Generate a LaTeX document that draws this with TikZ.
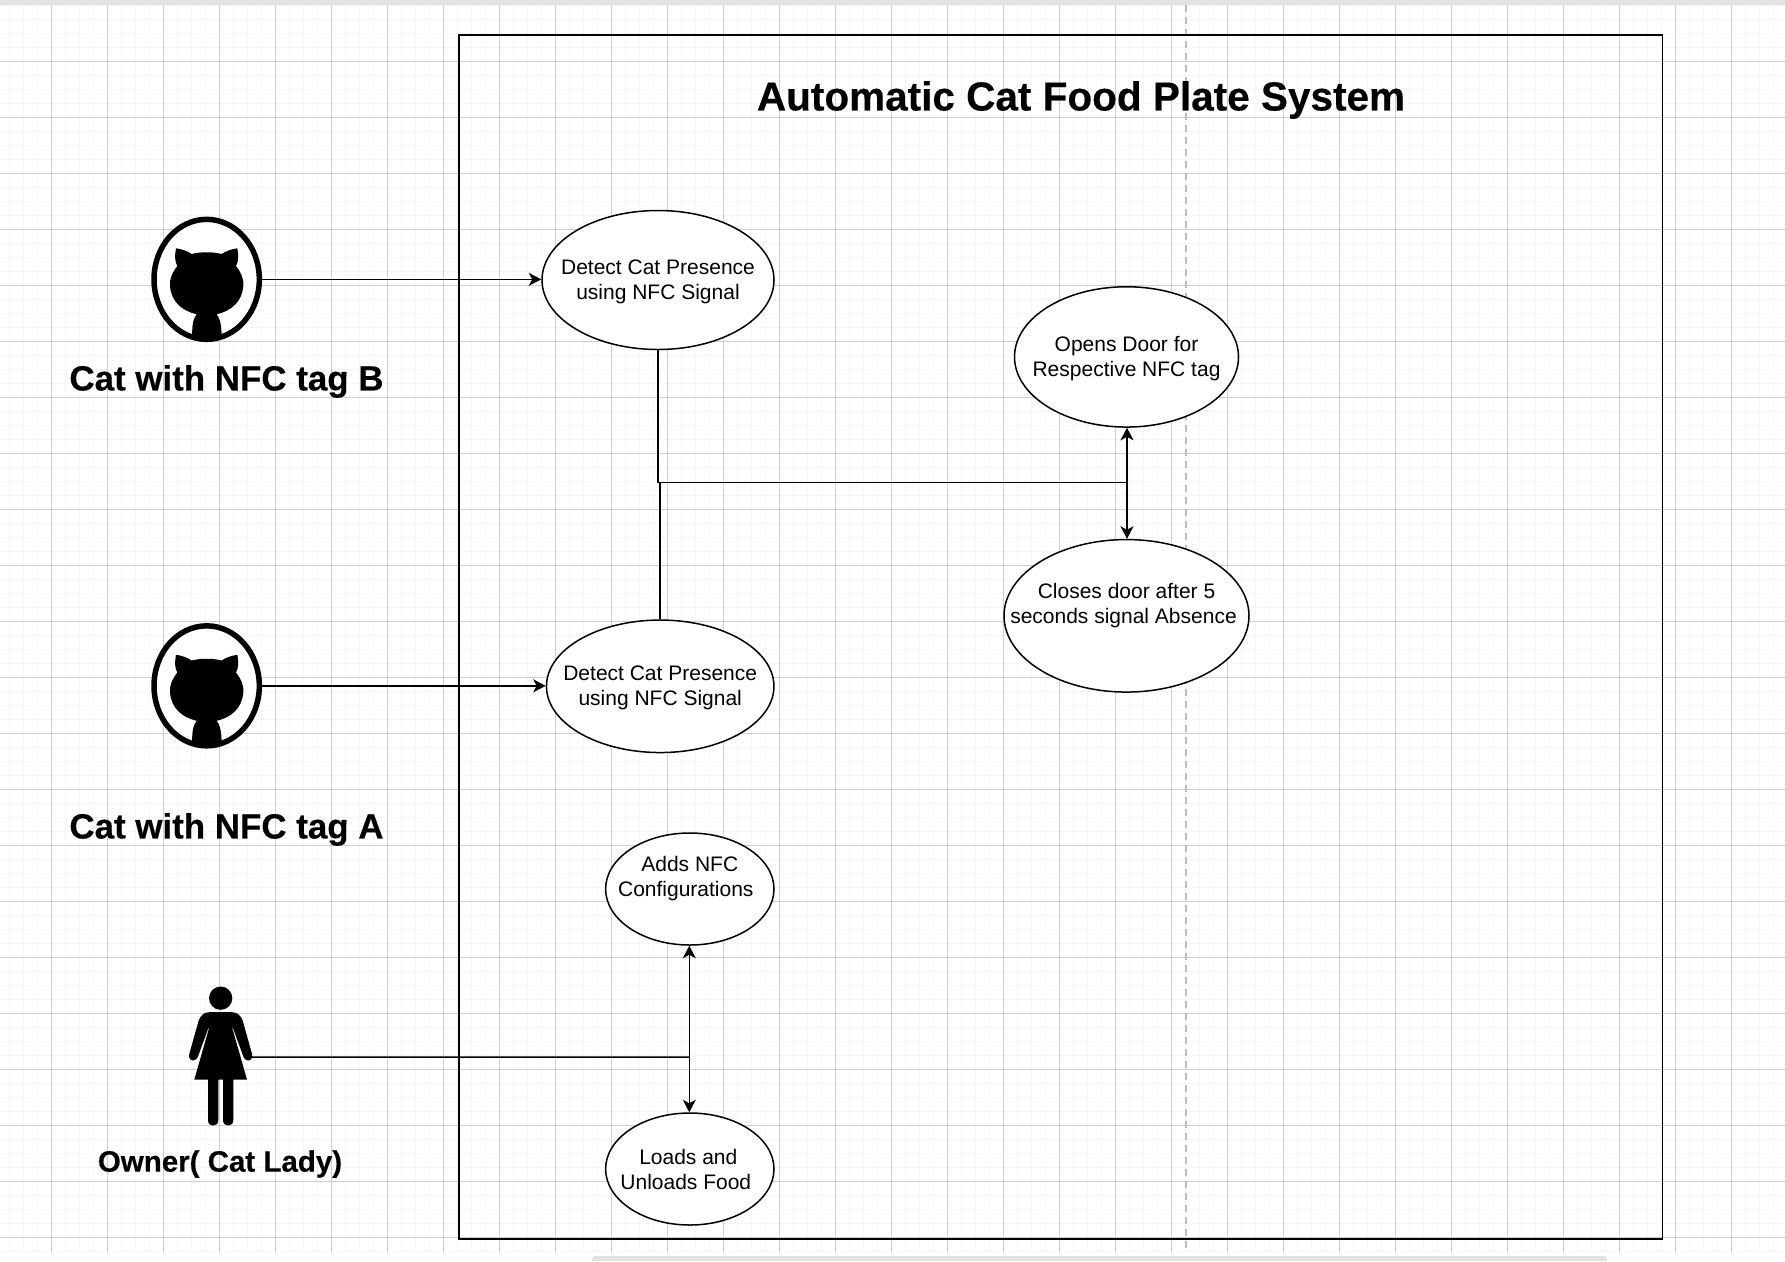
\documentclass[tikz,border=0pt]{standalone}
\usepackage{fontspec}
\setmainfont{Liberation Sans}[BoldFeatures={FakeBold=0.35}]
\usetikzlibrary{arrows.meta,shapes.geometric}
\definecolor{gridminor}{HTML}{F6F6F6}
\definecolor{gridmajor}{HTML}{CFCFCF}
\definecolor{barcol}{HTML}{E2E2E2}
\definecolor{dashcol}{HTML}{BDBDBD}
\tikzset{
  usecase/.style={draw=black,fill=white,line width=1.5pt,ellipse,inner xsep=-40pt,inner ysep=-5pt,align=center,font=\fontsize{21}{25}\selectfont,text=black},
  actorlabel/.style={font=\bfseries\fontsize{34.9}{42}\selectfont,inner sep=0pt,text=black},
  conn/.style={draw=black,line width=1.5pt},
  arr/.style={conn,-{Stealth[length=12.5pt,width=13pt,inset=3.5pt]}},
  icon/.style={fill=black,draw=none}
}
\newcommand{\cattag}{%
  \draw[line width=5.5pt,black,fill=white] (320,298) ellipse [x radius=158,y radius=180];
  \fill[icon] (228,205) .. controls (245,207) and (262,213) .. (275,222)
    .. controls (302,215) and (338,215) .. (365,222)
    .. controls (378,213) and (395,207) .. (412,205)
    .. controls (416,225) and (416,245) .. (408,258)
    .. controls (425,280) and (432,300) .. (430,318)
    .. controls (426,365) and (395,392) .. (350,403)
    .. controls (360,415) and (365,435) .. (365,475)
    -- (277,475)
    .. controls (275,435) and (280,415) .. (290,403)
    .. controls (245,392) and (214,365) .. (210,318)
    .. controls (208,300) and (215,280) .. (232,258)
    .. controls (224,245) and (224,225) .. (228,205) -- cycle;
}
\begin{document}
\begin{tikzpicture}[x=1pt,y=-1pt]
\useasboundingbox (0,0) rectangle (1785,1261);
\fill[white] (0,0) rectangle (1785,1261);
% grid
\begin{scope}
\clip (0,5) rectangle (1785,1252.7);
\foreach \k in {0,...,127} {
  \draw[gridminor,line width=1.6pt] ({9.5+14*\k},0) -- ({9.5+14*\k},1261);
}
\foreach \k in {0,...,90} {
  \draw[gridminor,line width=1.6pt] (0,{5.3+14*\k}) -- (1785,{5.3+14*\k});
}
\foreach \k in {0,...,31} {
  \draw[gridmajor,line width=1pt] ({51.5+56*\k},0) -- ({51.5+56*\k},1261);
}
\foreach \k in {0,...,21} {
  \draw[gridmajor,line width=1pt] (0,{61.3+56*\k}) -- (1785,{61.3+56*\k});
}
\end{scope}
% window chrome
\fill[barcol] (0,0) rectangle (1785,4.5);
\fill[barcol] (592,1261) -- (592,1259) arc[start angle=180,end angle=90,radius=3pt] -- (1604,1256) arc[start angle=90,end angle=0,radius=3pt] -- (1607,1261) -- cycle;
% page break
\coordinate (dashtop) at (1186,5);
\coordinate (dashbot) at (1186,1252);
\draw[dashcol,line width=1.8pt,dash pattern=on 7pt off 5pt] (dashtop) -- (dashbot);
% system box
\node[draw=black,line width=1.8pt,minimum width=1203.3pt,minimum height=1204pt,inner sep=0pt,anchor=north west] (sys) at (458.2,34) {};
\node[font=\bfseries\fontsize{40.5}{48}\selectfont,inner sep=0pt,text=black] (title) at (1081,100) {Automatic Cat Food Plate System};
% use cases
\node[usecase,minimum width=232pt,minimum height=139pt] (detB) at (658,280) {\rule{0pt}{18.5pt}Detect Cat Presence\\using NFC Signal};
\node[usecase,minimum width=227.5pt,minimum height=132.5pt] (detA) at (660.2,686.3) {\rule{0pt}{18.5pt}Detect Cat Presence\\using NFC Signal};
\node[usecase,minimum width=224pt,minimum height=140.3pt] (opens) at (1126.5,356.9) {\rule{0pt}{18.5pt}Opens Door for\\Respective NFC tag};
\node[usecase,minimum width=245pt,minimum height=152.5pt] (closes) at (1126.5,615.8) {Closes door after 5\\\mbox{seconds signal Absence\kern6pt}\\\mbox{}};
\node[usecase,minimum width=168.4pt,minimum height=112pt] (adds) at (689.8,889) {Adds NFC\\\mbox{Configurations\kern8pt}\\\mbox{}};
\node[usecase,minimum width=168.4pt,minimum height=112pt] (loads) at (689.8,1169) {Loads and\hspace*{3pt}\\Unloads Food\hspace*{8pt}};
% icons
\begin{scope}[x=0.33333pt,y=-0.33333pt,shift={(100pt,-180pt)}]
\cattag
\coordinate (catBr) at (483,298);
\end{scope}
\begin{scope}[x=0.33333pt,y=-0.33333pt,shift={(100pt,-586.5pt)}]
\cattag
\coordinate (catAr) at (483,298);
\end{scope}
\begin{scope}[x=0.33333pt,y=-0.33333pt,shift={(150pt,-960.5pt)}]
\fill[icon] (212,113) circle [radius=35];
\fill[icon] (178,155) -- (246,155) .. controls (262,155) and (272,165) .. (278,180)
  -- (306,280) .. controls (310,292) and (302,300) .. (295,300) .. controls (288,300) and (282,295) .. (280,288)
  -- (249,203) -- (247,203) -- (291,357) -- (250,357) -- (250,478)
  .. controls (250,490) and (243,495) .. (235,495) .. controls (226,495) and (219,490) .. (219,478)
  -- (219,357) -- (205,357) -- (205,478)
  .. controls (205,490) and (198,495) .. (189,495) .. controls (180,495) and (174,490) .. (174,478)
  -- (174,357) -- (133,357) -- (177,203) -- (175,203) -- (144,288)
  .. controls (142,295) and (136,300) .. (129,300) .. controls (122,300) and (114,292) .. (118,280)
  -- (146,180) .. controls (152,165) and (162,155) .. (178,155) -- cycle;
\coordinate (ownerr) at (305,290);
\end{scope}
% actor labels
\node[actorlabel] (labB) at (226.5,381.5) {Cat with NFC tag B};
\node[actorlabel] (labA) at (226.5,829.5) {Cat with NFC tag A};
\node[actorlabel,font=\bfseries\fontsize{29.5}{36}\selectfont] (labO) at (220,1164) {Owner( Cat Lady)};
% connectors
\draw[arr] (catBr) -- (catBr -| detB.west);
\draw[arr] (catAr) -- (catAr -| detA.west);
\coordinate (jr) at (1127,482.7);
\coordinate (ow) at (689.3,1057.17);
\draw[conn] (detB.south) |- (jr);
\draw[conn] (detA.north) -- (660.2,482.7);
\draw[arr,line width=2pt] (jr) -- (jr |- opens.south);
\draw[arr,line width=2pt] (jr) -- (jr |- closes.north);
\draw[conn] (ownerr) -- (ow);
\draw[arr] (ow) -- (ow |- adds.south);
\draw[arr] (ow) -- (ow |- loads.north);
\end{tikzpicture}
\end{document}
